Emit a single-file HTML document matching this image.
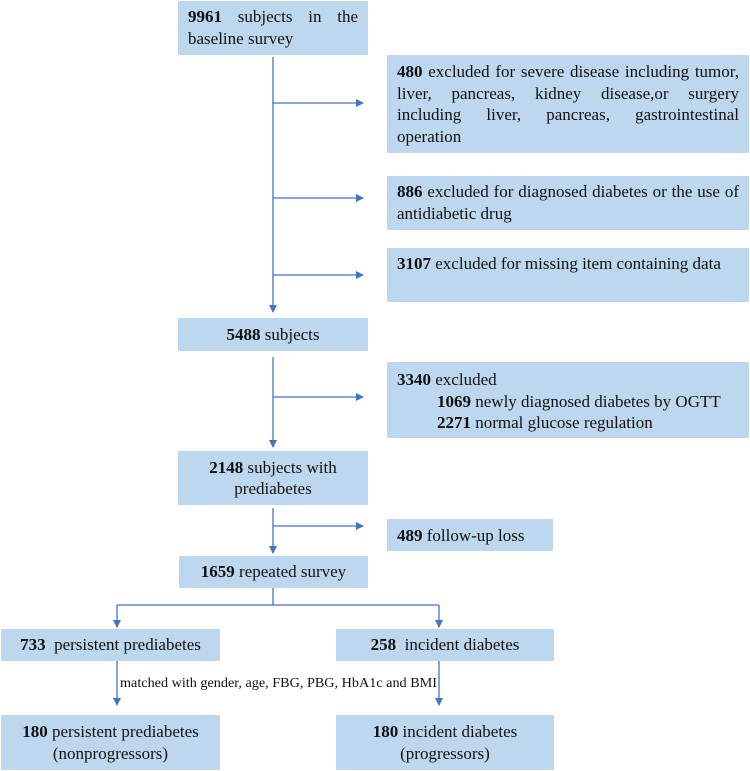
<!DOCTYPE html>
<html><head><meta charset="utf-8"><style>
body{margin:0;width:750px;height:771px;background:#fff;position:relative;overflow:hidden;font-family:"Liberation Serif",serif;color:#111}
.b{position:absolute;background:#bdd7ee;box-sizing:border-box;font-size:17px;line-height:21.5px}
.j{text-align:justify;text-align-last:left;padding:5px 10px 0 10px}
.c{text-align:center;display:flex;align-items:center;justify-content:center}
b{font-weight:bold}
svg{position:absolute;left:0;top:0}
</style></head><body>
<svg width="750" height="771">
<defs><marker id="a" markerWidth="8" markerHeight="8" refX="7" refY="4" orient="auto" markerUnits="userSpaceOnUse"><path d="M0,0 L8,4 L0,8 z" fill="#4472c4"/></marker></defs>
<g stroke="#4472c4" stroke-width="1.3" fill="none">
<line x1="273" y1="57" x2="273" y2="312" marker-end="url(#a)"/>
<line x1="273" y1="103" x2="363" y2="103" marker-end="url(#a)"/>
<line x1="273" y1="198" x2="363" y2="198" marker-end="url(#a)"/>
<line x1="273" y1="275" x2="363" y2="275" marker-end="url(#a)"/>
<line x1="273" y1="357" x2="273" y2="447" marker-end="url(#a)"/>
<line x1="273" y1="397" x2="363" y2="397" marker-end="url(#a)"/>
<line x1="273" y1="508" x2="273" y2="553" marker-end="url(#a)"/>
<line x1="273" y1="526" x2="363" y2="526" marker-end="url(#a)"/>
<line x1="273" y1="588" x2="273" y2="605"/>
<line x1="117" y1="605" x2="439" y2="605"/>
<line x1="117" y1="605" x2="117" y2="627" marker-end="url(#a)"/>
<line x1="439" y1="605" x2="439" y2="627" marker-end="url(#a)"/>
<line x1="117" y1="661" x2="117" y2="705" marker-end="url(#a)"/>
<line x1="439" y1="661" x2="439" y2="705" marker-end="url(#a)"/>
</g>
<text x="120" y="687" font-family="Liberation Serif, serif" font-size="13.5" fill="#111" textLength="317" lengthAdjust="spacingAndGlyphs">matched with gender, age, FBG, PBG, HbA1c and BMI</text>
</svg>
<div class="b j" style="left:178px;top:1px;width:190px;height:54px"><b>9961</b> subjects in the baseline survey</div>
<div class="b j" style="left:387px;top:55px;width:362px;height:98px;padding-top:6px"><b>480</b> excluded for severe disease including tumor, liver, pancreas, kidney disease,or surgery including liver, pancreas, gastrointestinal operation</div>
<div class="b j" style="left:387px;top:176px;width:362px;height:54px"><b>886</b> excluded for diagnosed diabetes or the use of antidiabetic drug</div>
<div class="b j" style="left:387px;top:248px;width:362px;height:54px"><b>3107</b> excluded for missing item containing data</div>
<div class="b c" style="left:178px;top:318px;width:190px;height:33px"><span><b>5488</b> subjects</span></div>
<div class="b" style="left:387px;top:362px;width:362px;height:76px;padding:7px 10px 0 10px"><b>3340</b> excluded<br><span style="padding-left:40px"><b>1069</b> newly diagnosed diabetes by OGTT</span><br><span style="padding-left:40px"><b>2271</b> normal glucose regulation</span></div>
<div class="b c" style="left:178px;top:451px;width:190px;height:54px"><span><b>2148</b> subjects with<br>prediabetes</span></div>
<div class="b" style="left:387px;top:519px;width:166px;height:32px;padding:6px 10px"><b>489</b> follow-up loss</div>
<div class="b c" style="left:179px;top:556px;width:189px;height:32px"><span><b>1659</b> repeated survey</span></div>
<div class="b c" style="left:1px;top:629px;width:219px;height:32px"><span><b>733</b>&nbsp; persistent prediabetes</span></div>
<div class="b c" style="left:336px;top:629px;width:218px;height:32px"><span><b>258</b>&nbsp; incident diabetes</span></div>
<div class="b c" style="left:1px;top:715px;width:219px;height:55px"><span><b>180</b> persistent prediabetes<br>(nonprogressors)</span></div>
<div class="b c" style="left:336px;top:715px;width:218px;height:55px"><span><b>180</b> incident diabetes<br>(progressors)</span></div>
</body></html>
